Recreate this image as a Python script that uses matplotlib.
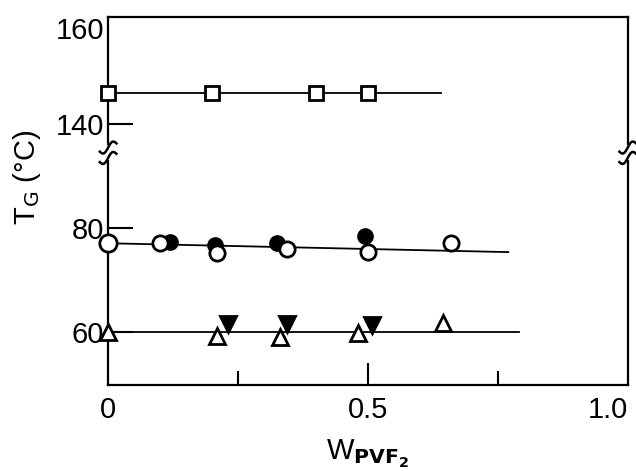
import matplotlib
matplotlib.use("Agg")
import matplotlib.pyplot as plt
import numpy as np

plt.rcParams['font.family'] = ['Liberation Sans', 'DejaVu Sans']

# upper block of the broken axis (140-160) is mapped onto 100-118.5 of the plot
UPPER_BASE = 140
UPPER_SCALE = 0.923

# PVF2 weight fraction / Tg data
sq_x = [0.0, 0.20, 0.40, 0.50]
sq_y = [146.5, 146.5, 146.5, 146.5]
sq_line_x = [0.0, 0.64]
sq_line_y = [146.5, 146.5]

oc_x = [0.0, 0.10, 0.21, 0.345, 0.50, 0.66]
oc_y = [77.1, 77.1, 75.3, 76.0, 75.4, 77.1]
fc_x = [0.12, 0.205, 0.325, 0.495]
fc_y = [77.3, 76.8, 77.1, 78.5]
circ_line_x = [0.0, 0.77]
circ_line_y = [77.1, 75.4]

ot_x = [0.0, 0.21, 0.33, 0.48, 0.645]
ot_y = [60.0, 59.3, 59.0, 59.8, 61.7]
ft_x = [0.23, 0.345, 0.507]
ft_y = [61.5, 61.5, 61.3]
tri_line_x = [0.0, 0.79]
tri_line_y = [60.0, 60.0]

ytick_vals = [60, 80, 140, 160]
xtick_vals = [0, 0.5, 1.0]
xtick_labels = ['0', '0.5', '1.0']


def shift(vals):
    return [100 + (v - UPPER_BASE) * UPPER_SCALE if v > 100 else v for v in vals]


fig = plt.figure(figsize=(6.36, 4.71), dpi=100)
ax = fig.add_axes([0.17, 0.182, 0.817, 0.782])

lw = 1.3
ax.plot(sq_line_x, shift(sq_line_y), color='black', lw=lw, zorder=1)
ax.plot(circ_line_x, circ_line_y, color='black', lw=lw, zorder=1)
ax.plot(tri_line_x, tri_line_y, color='black', lw=lw, zorder=1)

mk = dict(linestyle='none', markeredgecolor='black', markeredgewidth=2.0, zorder=6, clip_on=False)
ax.plot(sq_x, shift(sq_y), marker='s', markersize=10, markerfacecolor='white', **mk)
ax.plot(oc_x[:1], oc_y[:1], marker='o', markersize=12.5, markerfacecolor='white', **mk)
ax.plot(fc_x, fc_y, marker='o', markersize=10, markerfacecolor='black', **mk)
ax.plot(oc_x[1:], oc_y[1:], marker='o', markersize=11, markerfacecolor='white', **mk)
ax.plot(ot_x, ot_y, marker='^', markersize=11, markerfacecolor='white', **mk)
ax.plot(ft_x, ft_y, marker='v', markersize=11, markerfacecolor='black', **mk)

ax.set_xlim(0, 1.0)
ax.set_ylim(49.8, 120.6)

ax.set_xticks(xtick_vals)
ax.set_xticklabels(xtick_labels)
ax.set_xticks([0.25, 0.75], minor=True)
ax.set_yticks(shift(ytick_vals))
ax.set_yticklabels([str(v) for v in ytick_vals])

ax.tick_params(axis='x', which='major', direction='in', length=16, width=1.5,
               labelsize=21, pad=8)
ax.tick_params(axis='x', which='minor', direction='in', length=10, width=1.5)
ax.tick_params(axis='y', direction='in', length=18, width=1.5, labelsize=21, pad=3)
ax.yaxis.get_major_ticks()[-1].tick1line.set_visible(False)
ax.xaxis.get_major_ticks()[0].tick1line.set_visible(False)
ax.xaxis.get_major_ticks()[-1].tick1line.set_visible(False)
ax.get_xticklabels()[-1].set_horizontalalignment('right')

for s in ax.spines.values():
    s.set_linewidth(1.6)

# axis break symbols on both vertical spines
brk_y = 94.5
trans = ax.get_yaxis_transform()
t = np.linspace(-1, 1, 40)
wx = t * 0.016
for xpos in (0.0, 1.0):
    ax.plot([xpos, xpos], [brk_y - 1.4, brk_y + 1.4], color='white', lw=4,
            transform=trans, clip_on=False, zorder=4, solid_capstyle='butt')
    for dy in (-1.0, 1.0):
        wy = brk_y + dy + 0.8 * t + 0.7 * np.sin(np.pi * t)
        ax.plot(xpos + wx, wy, color='black', lw=1.8, transform=trans,
                clip_on=False, zorder=5)

ax.set_xlabel(r'W$_{\mathbf{PVF_2}}$', fontsize=21, labelpad=10)
ax.set_ylabel(r'T$_{\mathrm{G}}$ (°C)', fontsize=21)
ax.yaxis.set_label_coords(-0.125, 0.565)

fig.savefig('out.png', dpi=100)
